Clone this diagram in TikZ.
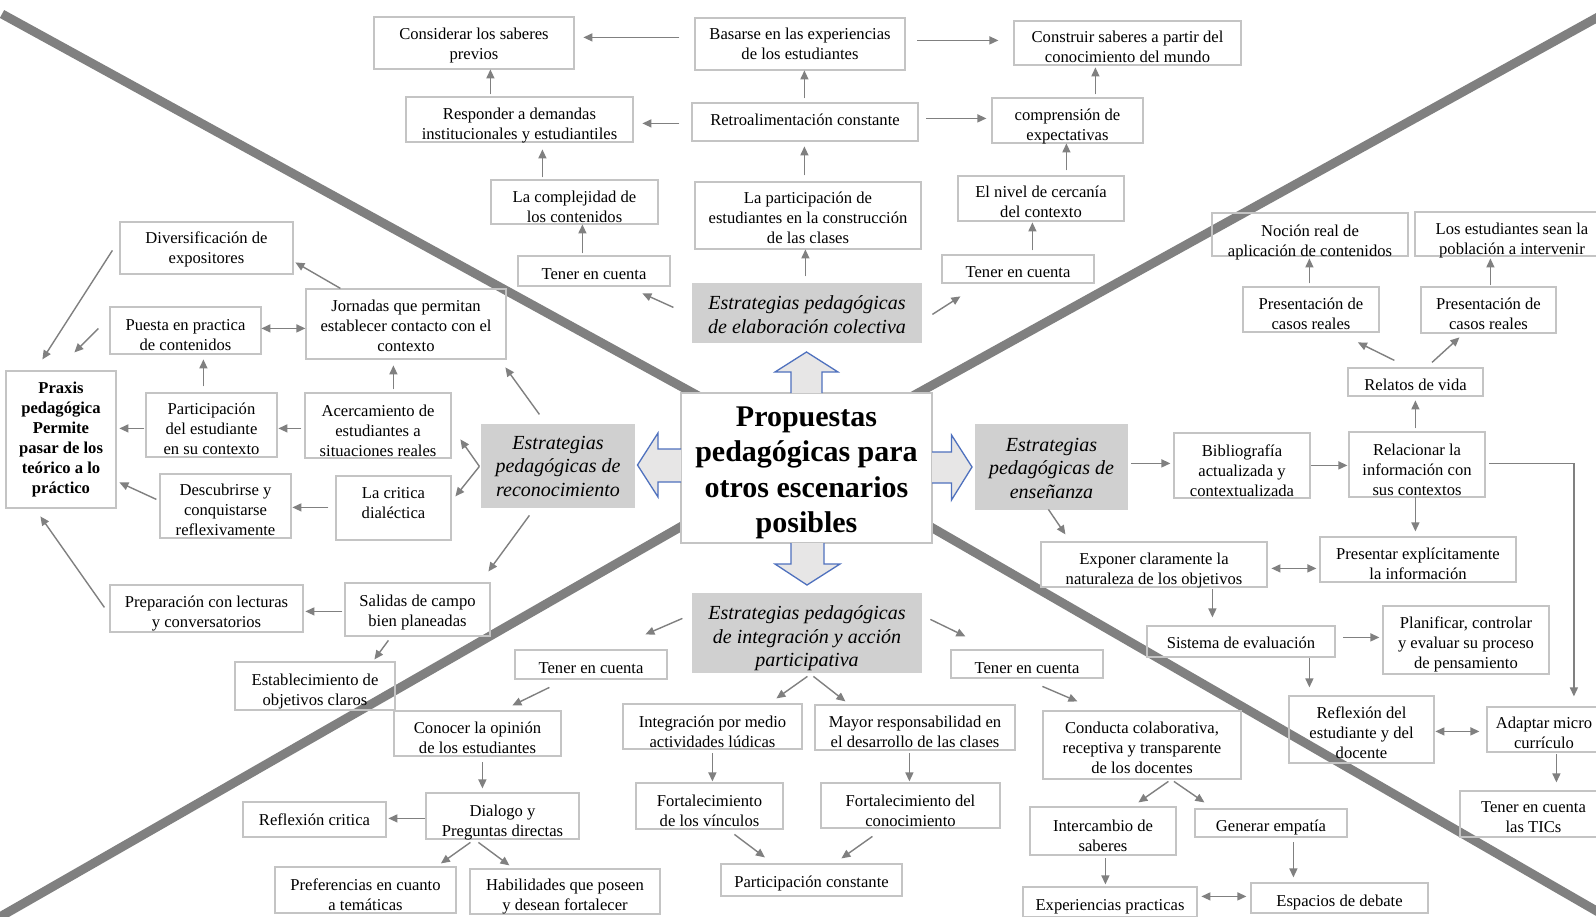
\documentclass[tikz,border=0pt]{standalone}
\usepackage{fontspec}
\setmainfont{Liberation Serif}
\usetikzlibrary{arrows.meta}
\definecolor{linegray}{RGB}{128,128,128}
\definecolor{boxc}{RGB}{196,196,196}
\definecolor{arrc}{RGB}{128,128,128}
\definecolor{gfill}{RGB}{208,208,208}
\definecolor{bafill}{RGB}{231,230,230}
\definecolor{baline}{RGB}{79,113,190}
\def\tsh{-4}
\newcommand\bxx[7][]{%
 \gdef\tsh{-4}%
 \node[box,#1,minimum width={#5-#3},minimum height={#6-#4}] (#2) at ({(#3+#5)/2},{(#4+#6)/2}) {};%
 \node[box,#1,draw=none,fill=none,minimum width=0pt,minimum height=0pt] (#2-t) at ([yshift=\tsh pt]#2.center) {#7};}
\begin{document}
\begin{tikzpicture}[x=1pt,y=-1pt,
 tsh/.code={\gdef\tsh{#1}},
 box/.style={draw=boxc,line width=1.2pt,inner sep=0pt,align=center,font=\fontsize{16.6}{20}\selectfont},
 gbox/.style={draw=none,fill=gfill,font=\itshape\fontsize{20}{23.5}\selectfont},
 pbox/.style={font=\bfseries\fontsize{16.6}{20}\selectfont},
 cbox/.style={fill=white,font=\bfseries\fontsize{30}{35.5}\selectfont},
 arr/.style={draw=arrc,line width=1.4pt,-{Triangle[length=9pt,width=8pt]}},
 darr/.style={draw=arrc,line width=1.4pt,{Triangle[length=9pt,width=8pt]}-{Triangle[length=9pt,width=8pt]}},
 bigline/.style={draw=linegray,line width=9pt},
 bigarrow/.style={draw=baline,fill=bafill,line width=1.3pt,line join=miter}]
\useasboundingbox (0,0) rectangle (1596,916);
\clip (0,0) rectangle (1596,916);
\fill[white] (0,0) rectangle (1596,916);
% thick diagonal lines
\draw[bigline] (2,14) -- (806,455) -- (1600,913);
\draw[bigline] (1600,16) -- (806,455) -- (-2,918);

% top
\bxx[tsh=-2.5]{cons}{374}{17}{574}{69}{Considerar los saberes\\previos}
\bxx[tsh=0]{bas}{695}{18}{905}{70}{Basarse en las experiencias\\de los estudiantes}
\bxx[tsh=-4]{constr}{1014}{21}{1241}{65}{Construir saberes a partir del\\conocimiento del mundo}
\bxx[tsh=-6]{resp}{406}{97}{633}{142}{Responder a demandas\\institucionales y estudiantiles}
\bxx[tsh=2]{retro}{692}{103}{918}{141}{Retroalimentación constante}
\bxx[tsh=-6]{compr}{992}{98}{1143}{143}{comprensión de\\expectativas}
\bxx[tsh=-5]{compl}{491}{180}{658}{224}{La complejidad de\\los contenidos}
\bxx[tsh=-2]{part}{695}{182}{921}{249}{La participación de\\estudiantes en la construcción\\de las clases}
\bxx[tsh=-3]{nivel}{958}{176}{1124}{221}{El nivel de cercanía\\del contexto}
\bxx[tsh=-3]{tenTL}{518}{256}{670}{286}{Tener en cuenta}
\bxx[tsh=-3]{tenTR}{942}{255}{1094}{283}{Tener en cuenta}
\bxx[gbox,tsh=-1.5]{estE}{692}{283}{922}{343}{Estrategias pedagógicas\\de elaboración colectiva}

% left
\bxx[tsh=-1]{divers}{120}{222}{293}{274}{Diversificación de\\expositores}
\bxx[tsh=-5]{puesta}{110}{307}{261}{354}{Puesta en practica\\de contenidos}
\bxx[tsh=-2]{jorn}{306}{289}{506}{359}{Jornadas que permitan\\establecer contacto con el\\contexto}
\bxx[pbox,tsh=0]{praxis}{6}{371}{116}{508}{Praxis\\pedagógica\\Permite\\pasar de los\\teórico a lo\\práctico}
\bxx[tsh=-4]{partE}{146}{393}{277}{457}{Participación\\del estudiante\\en su contexto}
\bxx[tsh=-5]{acerc}{305}{393}{451}{458}{Acercamiento de\\estudiantes a\\situaciones reales}
\bxx[tsh=-4]{desc}{160}{474}{291}{538}{Descubrirse y\\conquistarse\\reflexivamente}
\bxx[tsh=4.5]{crit}{336}{476}{451}{540}{La critica\\dialéctica}
\bxx[gbox,tsh=0]{estR}{481}{424}{635}{508}{Estrategias\\pedagógicas de\\reconocimiento}
\bxx[tsh=-3]{salidas}{345}{583}{490}{636}{Salidas de campo\\bien planeadas}
\bxx[tsh=-5]{prep}{110}{585}{303}{632}{Preparación con lecturas\\y conversatorios}
\bxx[tsh=-5]{establ}{235}{662}{395}{710}{Establecimiento de\\objetivos claros}

% right
\bxx[tsh=-8]{noc}{1212}{213}{1408}{256}{Noción real de\\aplicación de contenidos}
\bxx[tsh=-7]{losest}{1415}{212}{1609}{256}{Los estudiantes sean la\\población a intervenir}
\bxx[tsh=-4]{pres1}{1243}{287}{1379}{332}{Presentación de\\casos reales}
\bxx[tsh=-4]{pres2}{1421}{287}{1556}{333}{Presentación de\\casos reales}
\bxx[tsh=-3]{relatos}{1348}{368}{1483}{396}{Relatos de vida}
\bxx[gbox,tsh=-1]{estS}{975}{424}{1128}{510}{Estrategias\\pedagógicas de\\enseñanza}
\bxx[tsh=-5]{bib}{1174}{433}{1310}{498}{Bibliografía\\actualizada y\\contextualizada}
\bxx[tsh=-5]{relac}{1349}{432}{1485}{497}{Relacionar la\\información con\\sus contextos}
\bxx[tsh=-4.5]{presentar}{1320}{537}{1516}{582}{Presentar explícitamente\\la información}
\bxx[tsh=-6]{expon}{1041}{542}{1267}{587}{Exponer claramente la\\naturaleza de los objetivos}
\bxx[tsh=-1]{sistema}{1147}{626}{1335}{657}{Sistema de evaluación}
\bxx[tsh=-4]{planif}{1383}{606}{1549}{674}{Planificar, controlar\\y evaluar su proceso\\de pensamiento}
\bxx[tsh=-3.5]{reflex}{1289}{696}{1434}{763}{Reflexión del\\estudiante y del\\docente}
\bxx[tsh=-3.5]{adapt}{1487}{707}{1601}{752}{Adaptar micro\\currículo}
\bxx[tsh=-3]{tics}{1460}{791}{1607}{837}{Tener en cuenta\\las TICs}

% bottom
\bxx[gbox,tsh=-5.5]{estI}{692}{593}{922}{673}{Estrategias pedagógicas\\de integración y acción\\participativa}
\bxx[tsh=-4]{tenBL}{515}{650}{667}{679}{Tener en cuenta}
\bxx[tsh=-4]{tenBR}{951}{650}{1103}{678}{Tener en cuenta}
\bxx[tsh=-4]{conocer}{394}{711}{561}{756}{Conocer la opinión\\de los estudiantes}
\bxx[tsh=-7]{dialogo}{426}{793}{579}{839}{Dialogo y\\Preguntas directas}
\bxx[tsh=0]{reflcrit}{243}{802}{386}{837}{Reflexión critica}
\bxx[tsh=-5]{pref}{275}{867}{456}{913}{Preferencias en cuanto\\a temáticas}
\bxx[tsh=-5.5]{habil}{470}{869}{660}{914}{Habilidades que poseen\\y desean fortalecer}
\bxx[tsh=-5]{integ}{623}{704}{802}{749}{Integración por medio\\actividades lúdicas}
\bxx[tsh=-4.5]{mayor}{815}{705}{1015}{750}{Mayor responsabilidad en\\el desarrollo de las clases}
\bxx[tsh=-5]{fort1}{636}{783}{783}{829}{Fortalecimiento\\de los vínculos}
\bxx[tsh=-5]{fort2}{821}{783}{1000}{828}{Fortalecimiento del\\conocimiento}
\bxx[tsh=-3]{partc}{721}{864}{902}{896}{Participación constante}
\bxx[tsh=-3]{conducta}{1043}{711}{1241}{779}{Conducta colaborativa,\\receptiva y transparente\\de los docentes}
\bxx[tsh=-4.5]{intercambio}{1030}{807}{1176}{855}{Intercambio de\\saberes}
\bxx[tsh=-4]{generar}{1195}{809}{1347}{837}{Generar empatía}
\bxx[tsh=-5]{experiencias}{1023}{887}{1197}{917}{Experiencias practicas}
\bxx[tsh=-4]{espacios}{1251}{883}{1428}{913}{Espacios de debate}

% central
\bxx[cbox,tsh=-5]{central}{681}{393}{932}{543}{Propuestas\\pedagógicas para\\otros escenarios\\posibles}
\draw[bigarrow] (791,393) -- (791,372) -- (775,372) -- (806.5,352) -- (838,372) -- (822,372) -- (822,393);
\draw[bigarrow] (791,543) -- (791,564) -- (775,564) -- (807,585) -- (840,564) -- (824,564) -- (824,543);
\draw[bigarrow] (681,449) -- (658,449) -- (658,433) -- (637.5,465) -- (658,497) -- (658,482) -- (681,482);
\draw[bigarrow] (932,452) -- (951.5,452) -- (951.5,435) -- (972,467) -- (951.5,500) -- (951.5,483) -- (932,483);

% top arrows
\draw[arr] ([shift={(-15,20)}]bas.north west) -- ([shift={(210,21)}]cons.north west);
\draw[arr] ([shift={(223,23)}]bas.north west) -- ([shift={(-15,20)}]constr.north west);
\draw[arr] ([shift={(113,-4)}]retro.north west) -- ([shift={(110,53)}]bas.north west);
\draw[arr] ([shift={(-12,21)}]retro.north west) -- ([shift={(237,27)}]resp.north west);
\draw[arr] ([shift={(235,16)}]retro.north west) -- ([shift={(-5,21)}]compr.north west);
\draw[arr] ([shift={(110,-6)}]part.north west) -- ([shift={(113,44)}]retro.north west);
\draw[arr] ([shift={(114,-6)}]estE.north west) -- ([shift={(111,68)}]part.north west);
\draw[arr] ([shift={(85,-2)}]resp.north west) -- ([shift={(117,53)}]cons.north west);
\draw[arr] ([shift={(52,-2)}]compl.north west) -- ([shift={(137,53)}]resp.north west);
\draw[arr] ([shift={(65,-2)}]tenTL.north west) -- ([shift={(92,45)}]compl.north west);
\draw[arr] ([shift={(-18,25)}]estE.north west) -- ([shift={(125,38)}]tenTL.north west);
\draw[arr] ([shift={(241,32)}]estE.north west) -- ([shift={(19,42)}]tenTR.north west);
\draw[arr] ([shift={(91,-4)}]tenTR.north west) -- ([shift={(75,47)}]nivel.north west);
\draw[arr] ([shift={(109,-5)}]nivel.north west) -- ([shift={(75,46)}]compr.north west);
\draw[arr] ([shift={(104,-3)}]compr.north west) -- ([shift={(82,47)}]constr.north west);

% left arrows
\draw[arr] ([shift={(35,0)}]jorn.north west) -- ([shift={(176,41)}]divers.north west);
\draw[arr] ([shift={(-7,29)}]divers.north west) -- ([shift={(37,-11)}]praxis.north west);
\draw[arr] ([shift={(-11,22)}]puesta.north west) -- ([shift={(69,-18)}]praxis.north west);
\draw[darr] ([shift={(152,22)}]puesta.north west) -- ([shift={(0,40)}]jorn.north west);
\draw[arr] ([shift={(58,-6)}]partE.north west) -- ([shift={(94,53)}]puesta.north west);
\draw[arr] ([shift={(89,-3)}]acerc.north west) -- ([shift={(88,77)}]jorn.north west);
\draw[arr] ([shift={(-3,36)}]acerc.north west) -- ([shift={(133,36)}]partE.north west);
\draw[arr] ([shift={(-1,36)}]partE.north west) -- ([shift={(114,58)}]praxis.north west);
\draw[arr] ([shift={(-3,26)}]desc.north west) -- ([shift={(114,112)}]praxis.north west);
\draw[arr] ([shift={(-7,32)}]crit.north west) -- ([shift={(133,34)}]desc.north west);
\draw[arr] ([shift={(-1,43)}]estR.north west) -- ([shift={(156,47)}]acerc.north west);
\draw[arr] ([shift={(-1,43)}]estR.north west) -- ([shift={(120,21)}]crit.north west);
\draw[arr] ([shift={(59,-9)}]estR.north west) -- ([shift={(200,79)}]jorn.north west);
\draw[arr] ([shift={(49,92)}]estR.north west) -- ([shift={(144,-11)}]salidas.north west);
\draw[arr] ([shift={(-2,29)}]salidas.north west) -- ([shift={(196,27)}]prep.north west);
\draw[arr] ([shift={(-5,23)}]prep.north west) -- ([shift={(35,146)}]praxis.north west);
\draw[arr] ([shift={(44,58)}]salidas.north west) -- ([shift={(140,-2)}]establ.north west);

% right arrows
\draw[arr] ([shift={(157,40)}]estS.north west) -- ([shift={(-3,31)}]bib.north west);
\draw[arr] ([shift={(138,33)}]bib.north west) -- ([shift={(-1,34)}]relac.north west);
\draw[arr] ([shift={(67,-3)}]relac.north west) -- ([shift={(68,33)}]relatos.north west);
\draw[arr] ([shift={(47,-7)}]relatos.north west) -- ([shift={(115.5,56)}]pres1.north west);
\draw[arr] ([shift={(84.6,-5)}]relatos.north west) -- ([shift={(39,51)}]pres2.north west);
\draw[arr] ([shift={(67,-3)}]pres1.north west) -- ([shift={(98,46)}]noc.north west);
\draw[arr] ([shift={(70,-1)}]pres2.north west) -- ([shift={(76,47)}]losest.north west);
\draw[arr] ([shift={(141,32)}]relac.north west) -| ([shift={(87.5,-10)}]adapt.north west);
\draw[arr] ([shift={(67,66)}]relac.north west) -- ([shift={(96,-5)}]presentar.north west);
\draw[darr] ([shift={(231,27)}]expon.north west) -- ([shift={(-3,32)}]presentar.north west);
\draw[arr] ([shift={(74,86)}]estS.north west) -- ([shift={(25,-7)}]expon.north west);
\draw[arr] ([shift={(172,48)}]expon.north west) -- ([shift={(66,-8)}]sistema.north west);
\draw[arr] ([shift={(197,12)}]sistema.north west) -- ([shift={(-3,32)}]planif.north west);
\draw[arr] ([shift={(163,33)}]sistema.north west) -- ([shift={(21,-8)}]reflex.north west);
\draw[darr] ([shift={(147,36)}]reflex.north west) -- ([shift={(-7,25)}]adapt.north west);
\draw[arr] ([shift={(70,48)}]adapt.north west) -- ([shift={(97,-8)}]tics.north west);

% bottom arrows
\draw[arr] ([shift={(-9,26)}]estI.north west) -- ([shift={(131,-15)}]tenBL.north west);
\draw[arr] ([shift={(239,27)}]estI.north west) -- ([shift={(15,-13)}]tenBR.north west);
\draw[arr] ([shift={(35,38)}]tenBL.north west) -- ([shift={(119,-5)}]conocer.north west);
\draw[arr] ([shift={(89,52)}]conocer.north west) -- ([shift={(57,-4)}]dialogo.north west);
\draw[arr] ([shift={(0,26)}]dialogo.north west) -- ([shift={(146,17)}]reflcrit.north west);
\draw[arr] ([shift={(45,50)}]dialogo.north west) -- ([shift={(166.5,-3)}]pref.north west);
\draw[arr] ([shift={(53,50)}]dialogo.north west) -- ([shift={(40,-3)}]habil.north west);
\draw[arr] ([shift={(116,84)}]estI.north west) -- ([shift={(154,-5)}]integ.north west);
\draw[arr] ([shift={(122,84)}]estI.north west) -- ([shift={(31,-3)}]mayor.north west);
\draw[arr] ([shift={(90,50)}]integ.north west) -- ([shift={(77,-1)}]fort1.north west);
\draw[arr] ([shift={(95,49)}]mayor.north west) -- ([shift={(89,-1)}]fort2.north west);
\draw[arr] ([shift={(99,52)}]fort1.north west) -- ([shift={(44.5,-6)}]partc.north west);
\draw[arr] ([shift={(52,54)}]fort2.north west) -- ([shift={(121,-5)}]partc.north west);
\draw[arr] ([shift={(92,37)}]tenBR.north west) -- ([shift={(35,-9)}]conducta.north west);
\draw[arr] ([shift={(126,71)}]conducta.north west) -- ([shift={(109,-4)}]intercambio.north west);
\draw[arr] ([shift={(131.5,71)}]conducta.north west) -- ([shift={(10,-6)}]generar.north west);
\draw[arr] ([shift={(76,52)}]intercambio.north west) -- ([shift={(83,-2)}]experiencias.north west);
\draw[arr] ([shift={(99,34)}]generar.north west) -- ([shift={(43,-5)}]espacios.north west);
\draw[darr] ([shift={(179,10)}]experiencias.north west) -- ([shift={(-4,14)}]espacios.north west);
\end{tikzpicture}
\end{document}
